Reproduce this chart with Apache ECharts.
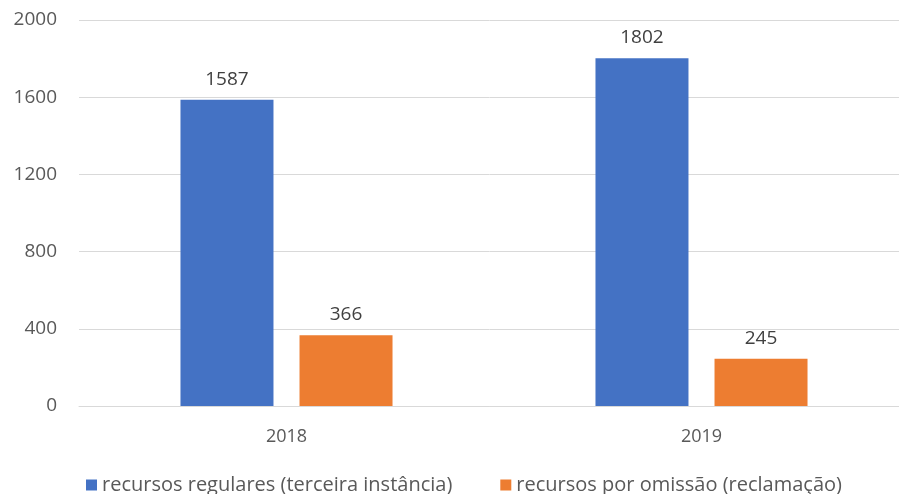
<!DOCTYPE html>
<html><head><meta charset="utf-8">
<script src="https://cdn.jsdelivr.net/npm/echarts@6/dist/echarts.min.js"></script>
<style>html,body{margin:0;padding:0;background:#fff}#c{width:899px;height:494px}</style>
</head><body><div id="c"></div>
<script>
const categories = ['2018', '2019'];
const regulares = [1587, 1802];
const omissao = [366, 245];
const seriesNames = ['recursos regulares (terceira instância)', 'recursos por omissão (reclamação)'];
const yTicks = [0, 400, 800, 1200, 1600, 2000];

const font = '"Open Sans", sans-serif';
const txt = '#595959';
const chart = echarts.init(document.getElementById('c'), null, {renderer: 'canvas'});
chart.setOption({
  animation: false,
  textStyle: {fontFamily: font},
  grid: {left: 79, width: 830, top: 20, height: 386, containLabel: false, outerBoundsMode: 'none'},
  legend: {
    top: 470, left: 81,
    itemWidth: 11, itemHeight: 11, itemGap: 48,
    icon: 'rect',
    textStyle: {color: txt, fontSize: 20, fontFamily: font},
    data: seriesNames
  },
  xAxis: {
    type: 'category', data: categories,
    axisLine: {show: true, lineStyle: {color: '#d9d9d9'}},
    axisTick: {show: false},
    axisLabel: {color: txt, fontSize: 18, margin: 22, fontFamily: font}
  },
  yAxis: {
    type: 'value', min: yTicks[0], max: yTicks[yTicks.length - 1], interval: 400,
    axisLine: {show: false}, axisTick: {show: false},
    splitLine: {lineStyle: {color: '#d9d9d9', width: 1}},
    axisLabel: {color: txt, fontSize: 19, margin: 22, fontFamily: font,
      formatter: v => String(v)}
  },
  series: [
    {name: seriesNames[0], type: 'bar', data: regulares, barWidth: 93, barGap: '28%',
     itemStyle: {color: '#4472C4'},
     label: {show: true, position: 'top', distance: 11, color: '#404040', fontSize: 19, fontFamily: font}},
    {name: seriesNames[1], type: 'bar', data: omissao, barWidth: 93,
     itemStyle: {color: '#ED7D31'},
     label: {show: true, position: 'top', distance: 11, color: '#404040', fontSize: 19, fontFamily: font}}
  ]
});
</script></body></html>
